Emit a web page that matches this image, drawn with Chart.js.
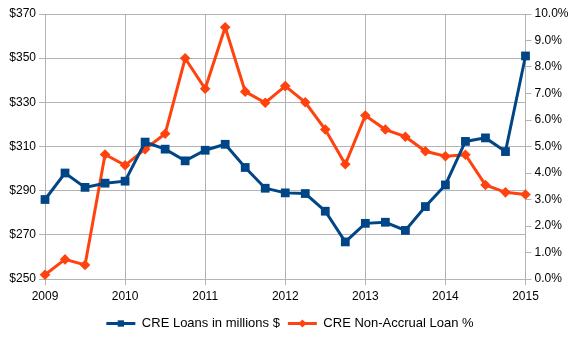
<!DOCTYPE html>
<html>
<head>
<meta charset="utf-8">
<script src="https://cdn.jsdelivr.net/npm/chart.js@4"></script>
<style>
  html, body { margin: 0; padding: 0; background: #fff; }
  #wrap { width: 580px; height: 338px; position: relative; }
</style>
</head>
<body>
<div id="wrap"><canvas id="chart"></canvas></div>
<script>
// quarters, 2009 Q1 .. 2015 Q1
const quarters = [2009, 2009.25, 2009.5, 2009.75, 2010, 2010.25, 2010.5, 2010.75,
  2011, 2011.25, 2011.5, 2011.75, 2012, 2012.25, 2012.5, 2012.75,
  2013, 2013.25, 2013.5, 2013.75, 2014, 2014.25, 2014.5, 2014.75, 2015];

const creLoans = [286, 298, 291.5, 293.4, 294.3, 312, 308.8, 303.5,
  308.3, 311, 300.5, 291.1, 289, 288.7, 280.7, 266.8,
  275.2, 275.7, 272, 282.8, 292.6, 312.3, 313.9, 307.7, 351];

const nonAccrualPct = [0.16, 0.74, 0.53, 4.7, 4.29, 4.9, 5.48, 8.33,
  7.18, 9.5, 7.07, 6.65, 7.28, 6.67, 5.64, 4.33,
  6.17, 5.64, 5.37, 4.82, 4.63, 4.69, 3.55, 3.27, 3.19];

const seriesNames = ['CRE Loans in millions $', 'CRE Non-Accrual Loan %'];
const blue = '#004586';
const orange = '#ff420e';
const grid = '#b3b3b3';

Chart.defaults.font.family = '"Liberation Sans", Arial, sans-serif';
Chart.defaults.font.size = 12;
Chart.defaults.color = '#000';

// draw the point marker over each legend line
const legendMarkers = {
  id: 'legendMarkers',
  afterDraw(chart) {
    const legend = chart.legend;
    if (!legend || !legend.legendHitBoxes) return;
    const ctx = chart.ctx;
    legend.legendHitBoxes.forEach((box, i) => {
      const ds = chart.data.datasets[i];
      const cx = box.left + 14.5;
      const cy = box.top + box.height / 2;
      ctx.save();
      ctx.fillStyle = ds.borderColor;
      ctx.strokeStyle = ds.borderColor;
      Chart.helpers.drawPoint(ctx, { pointStyle: ds.pointStyle, radius: i === 0 ? 4.5 : 4, borderWidth: 0 }, cx, cy);
      ctx.restore();
    });
  }
};

new Chart(document.getElementById('chart'), {
  type: 'line',
  data: {
    datasets: [
      {
        label: seriesNames[0],
        data: quarters.map((q, i) => ({ x: q, y: creLoans[i] })),
        yAxisID: 'y',
        borderColor: blue,
        backgroundColor: blue,
        borderWidth: 3,
        pointStyle: 'rect',
        pointRadius: 6.2,
        pointBorderWidth: 0,
        clip: false,
        tension: 0
      },
      {
        label: seriesNames[1],
        data: quarters.map((q, i) => ({ x: q, y: nonAccrualPct[i] })),
        yAxisID: 'y1',
        borderColor: orange,
        backgroundColor: orange,
        borderWidth: 3,
        pointStyle: 'rectRot',
        pointRadius: 5.3,
        pointBorderWidth: 0,
        clip: false,
        tension: 0
      }
    ]
  },
  options: {
    responsive: true,
    maintainAspectRatio: false,
    animation: false,
    layout: { padding: { top: 14, bottom: -2, left: 0, right: 0 } },
    plugins: {
      tooltip: { enabled: false },
      legend: {
        position: 'bottom',
        labels: {
          boxWidth: 29,
          boxHeight: 3,
          padding: 8,
          font: { size: 13 },
          generateLabels(chart) {
            return chart.data.datasets.map((ds, i) => ({
              text: ds.label,
              fillStyle: ds.borderColor,
              strokeStyle: ds.borderColor,
              lineWidth: 0,
              datasetIndex: i
            }));
          }
        }
      }
    },
    scales: {
      x: {
        type: 'linear',
        min: 2009,
        max: 2015,
        ticks: { stepSize: 1, padding: 4, callback: v => String(v) },
        grid: { color: grid, tickLength: 6 },
        border: { color: grid },
        afterFit(s) { s.height = 30; }
      },
      y: {
        position: 'left',
        min: 250,
        max: 370,
        ticks: { stepSize: 20, padding: 3, callback: v => '$' + v },
        grid: { color: grid, tickLength: 6 },
        border: { color: grid },
        afterFit(s) { s.width = 45; }
      },
      y1: {
        position: 'right',
        min: 0,
        max: 10,
        ticks: { stepSize: 1, padding: 3, callback: v => v.toFixed(1) + '%' },
        grid: { drawOnChartArea: false, color: grid, tickLength: 6 },
        border: { color: grid },
        afterFit(s) { s.width = 54.5; }
      }
    }
  },
  plugins: [legendMarkers]
});
</script>
</body>
</html>
